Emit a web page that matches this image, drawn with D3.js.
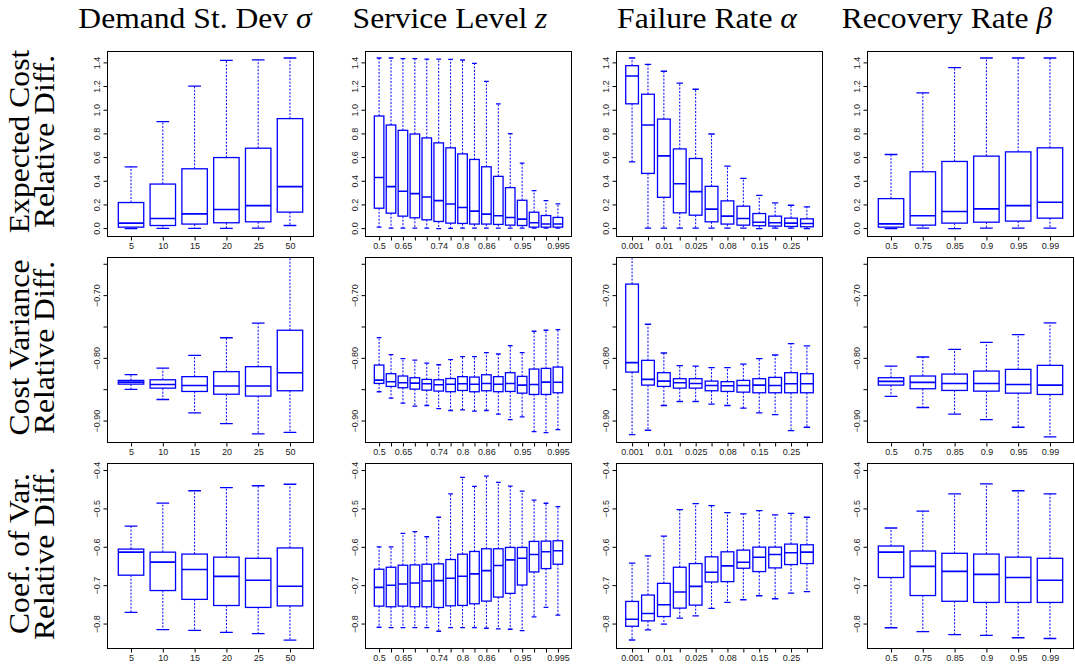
<!DOCTYPE html>
<html>
<head>
<meta charset="utf-8">
<script src="https://cdn.jsdelivr.net/npm/d3@7"></script>
<style>
  html, body { margin: 0; padding: 0; background: #fff; }
  svg { display: block; }
  .tick text { font-family: "Liberation Sans", Arial, sans-serif; font-size: 9px; fill: #222; }
  .title, .rowlab { font-family: "Liberation Serif", "Times New Roman", serif; fill: #000; }
</style>
</head>
<body>
<script>
// ---- factor levels (x categories) ----
const demandSd = ["5", "10", "15", "20", "25", "50"];
const serviceLevel = ["0.5", "0.6", "0.65", "0.7", "0.72", "0.74", "0.76", "0.8",
                      "0.84", "0.86", "0.88", "0.9", "0.95", "0.98", "0.99", "0.995"];
const serviceLevelLabelled = ["0.5", "0.65", "0.74", "0.8", "0.86", "0.95", "0.995"];
const failureRate = ["0.001", "0.005", "0.01", "0.02", "0.025", "0.05",
                     "0.08", "0.1", "0.15", "0.2", "0.25", "0.3"];
const failureRateLabelled = ["0.001", "0.01", "0.025", "0.08", "0.15", "0.25"];
const recoveryRate = ["0.5", "0.75", "0.85", "0.9", "0.95", "0.99"];

// ---- column and row headings ----
const colTitles = [["Demand St. Dev ", "σ"], ["Service Level ", "z"],
                   ["Failure Rate ", "α"], ["Recovery Rate ", "β"]];
const rowTitles = [["Expected Cost", "Relative Diff."],
                   ["Cost Variance", "Relative Diff."],
                   ["Coef. of Var.", "Relative Diff."]];

// ---- y ranges and y ticks per row ----
const yDomains = [[-0.071, 1.492], [-0.935, -0.640], [-0.865, -0.383]];
const yTicks = [[0, 0.2, 0.4, 0.6, 0.8, 1.0, 1.2, 1.4],
                [-0.65, -0.70, -0.75, -0.80, -0.85, -0.90],
                [-0.4, -0.5, -0.6, -0.7, -0.8]];
const yTickLabels = [["0.0", "0.2", "0.4", "0.6", "0.8", "1.0", "1.2", "1.4"],
                     ["", "−0.70", "", "−0.80", "", "−0.90"],
                     ["−0.4", "−0.5", "−0.6", "−0.7", "−0.8"]];

// ---- box statistics: [lower whisker, Q1, median, Q3, upper whisker] ----
// Expected cost relative difference
const ecDemand = [
  [-0.005, 0.008, 0.042, 0.216, 0.518],
  [-0.003, 0.022, 0.081, 0.372, 0.899],
  [-0.003, 0.034, 0.120, 0.501, 1.199],
  [-0.003, 0.045, 0.157, 0.596, 1.417],
  [0.000, 0.053, 0.190, 0.675, 1.422],
  [0.022, 0.135, 0.350, 0.925, 1.437]
];
const ecService = [
  [0.008, 0.168, 0.428, 0.947, 1.437],
  [0.000, 0.126, 0.350, 0.871, 1.437],
  [0.000, 0.101, 0.311, 0.826, 1.431],
  [0.000, 0.087, 0.291, 0.795, 1.431],
  [0.000, 0.070, 0.263, 0.762, 1.428],
  [-0.005, 0.056, 0.232, 0.720, 1.428],
  [-0.003, 0.042, 0.204, 0.678, 1.425],
  [0.000, 0.039, 0.174, 0.627, 1.420],
  [0.000, 0.034, 0.143, 0.580, 1.392],
  [0.000, 0.034, 0.118, 0.518, 1.240],
  [0.000, 0.031, 0.104, 0.437, 1.050],
  [0.000, 0.025, 0.090, 0.342, 0.798],
  [0.000, 0.022, 0.076, 0.235, 0.549],
  [0.000, 0.008, 0.045, 0.134, 0.316],
  [0.000, 0.008, 0.034, 0.106, 0.232],
  [0.000, 0.008, 0.034, 0.090, 0.204]
];
const ecFailure = [
  [0.560, 1.050, 1.285, 1.372, 1.437],
  [0.000, 0.462, 0.871, 1.131, 1.383],
  [0.000, 0.260, 0.610, 0.921, 1.325],
  [0.000, 0.129, 0.375, 0.669, 1.224],
  [0.000, 0.109, 0.308, 0.588, 1.173],
  [0.000, 0.053, 0.160, 0.353, 0.795],
  [0.000, 0.034, 0.101, 0.230, 0.524],
  [0.000, 0.025, 0.081, 0.185, 0.420],
  [-0.005, 0.020, 0.050, 0.123, 0.277],
  [0.000, 0.017, 0.045, 0.101, 0.213],
  [0.000, 0.014, 0.042, 0.084, 0.193],
  [-0.005, 0.011, 0.039, 0.078, 0.180]
];
const ecRecovery = [
  [-0.005, 0.008, 0.036, 0.249, 0.622],
  [0.000, 0.025, 0.104, 0.476, 1.143],
  [-0.005, 0.042, 0.140, 0.563, 1.355],
  [0.000, 0.050, 0.162, 0.608, 1.437],
  [0.000, 0.059, 0.190, 0.644, 1.437],
  [0.000, 0.084, 0.218, 0.678, 1.437]
];

// Cost variance relative difference
const cvDemand = [
  [-0.8504, -0.8419, -0.8387, -0.8360, -0.8269],
  [-0.8664, -0.8483, -0.8424, -0.8350, -0.8163],
  [-0.8877, -0.8536, -0.8440, -0.8300, -0.7960],
  [-0.9048, -0.8580, -0.8450, -0.8220, -0.7680],
  [-0.9213, -0.8610, -0.8450, -0.8141, -0.7448],
  [-0.9187, -0.8525, -0.8237, -0.7560, -0.6200]
];
const cvService = [
  [-0.8541, -0.8408, -0.8355, -0.8115, -0.7677],
  [-0.8643, -0.8456, -0.8381, -0.8253, -0.7950],
  [-0.8723, -0.8477, -0.8397, -0.8290, -0.8013],
  [-0.8771, -0.8499, -0.8403, -0.8317, -0.8035],
  [-0.8760, -0.8515, -0.8413, -0.8344, -0.8083],
  [-0.8810, -0.8530, -0.8430, -0.8350, -0.8110],
  [-0.8840, -0.8540, -0.8420, -0.8330, -0.8030],
  [-0.8830, -0.8520, -0.8413, -0.8300, -0.7980],
  [-0.8850, -0.8541, -0.8420, -0.8307, -0.7980],
  [-0.8840, -0.8525, -0.8408, -0.8270, -0.7917],
  [-0.8899, -0.8540, -0.8420, -0.8300, -0.7939],
  [-0.8984, -0.8536, -0.8408, -0.8237, -0.7805],
  [-0.8941, -0.8563, -0.8435, -0.8296, -0.7917],
  [-0.9176, -0.8584, -0.8424, -0.8179, -0.7576],
  [-0.9192, -0.8584, -0.8387, -0.8168, -0.7560],
  [-0.9144, -0.8557, -0.8390, -0.8147, -0.7550]
];
const cvFailure = [
  [-0.9224, -0.8227, -0.8077, -0.6824, -0.6000],
  [-0.9155, -0.8435, -0.8344, -0.8040, -0.7464],
  [-0.8760, -0.8456, -0.8371, -0.8237, -0.7923],
  [-0.8696, -0.8483, -0.8397, -0.8333, -0.8125],
  [-0.8696, -0.8483, -0.8408, -0.8333, -0.8131],
  [-0.8739, -0.8525, -0.8440, -0.8371, -0.8157],
  [-0.8760, -0.8536, -0.8445, -0.8380, -0.8157],
  [-0.8803, -0.8547, -0.8440, -0.8360, -0.8099],
  [-0.8877, -0.8557, -0.8435, -0.8333, -0.8013],
  [-0.8904, -0.8557, -0.8440, -0.8312, -0.7955],
  [-0.9160, -0.8557, -0.8413, -0.8237, -0.7773],
  [-0.9107, -0.8557, -0.8413, -0.8253, -0.7810]
];
const cvRecovery = [
  [-0.8616, -0.8435, -0.8376, -0.8317, -0.8131],
  [-0.8792, -0.8493, -0.8392, -0.8290, -0.7987],
  [-0.8899, -0.8520, -0.8408, -0.8259, -0.7864],
  [-0.8984, -0.8531, -0.8408, -0.8211, -0.7752],
  [-0.9107, -0.8563, -0.8424, -0.8184, -0.7629],
  [-0.9261, -0.8584, -0.8435, -0.8120, -0.7443]
];

// Coefficient of variation relative difference
const covDemand = [
  [-0.771, -0.674, -0.614, -0.606, -0.546],
  [-0.816, -0.714, -0.640, -0.614, -0.486],
  [-0.818, -0.737, -0.659, -0.619, -0.454],
  [-0.823, -0.753, -0.677, -0.627, -0.446],
  [-0.826, -0.758, -0.687, -0.630, -0.441],
  [-0.843, -0.754, -0.703, -0.603, -0.437]
];
const covService = [
  [-0.8096, -0.7546, -0.7057, -0.6585, -0.6000],
  [-0.8105, -0.7563, -0.7004, -0.6533, -0.6000],
  [-0.8105, -0.7546, -0.6970, -0.6480, -0.5650],
  [-0.8105, -0.7563, -0.6943, -0.6472, -0.5607],
  [-0.8105, -0.7563, -0.6891, -0.6454, -0.5738],
  [-0.8201, -0.7581, -0.6882, -0.6445, -0.5231],
  [-0.8105, -0.7537, -0.6821, -0.6332, -0.4620],
  [-0.8105, -0.7528, -0.6769, -0.6192, -0.4192],
  [-0.8105, -0.7485, -0.6707, -0.6122, -0.4428],
  [-0.8122, -0.7415, -0.6620, -0.6052, -0.4157],
  [-0.8140, -0.7310, -0.6489, -0.6052, -0.4323],
  [-0.8148, -0.7214, -0.6341, -0.6017, -0.4419],
  [-0.8183, -0.6996, -0.6297, -0.6017, -0.4550],
  [-0.7825, -0.6655, -0.6201, -0.5860, -0.4786],
  [-0.7581, -0.6568, -0.6131, -0.5852, -0.4865],
  [-0.7782, -0.6454, -0.6105, -0.5843, -0.4952]
];
const covFailure = [
  [-0.8428, -0.8070, -0.7886, -0.7424, -0.6428],
  [-0.8166, -0.7930, -0.7738, -0.7258, -0.6236],
  [-0.8017, -0.7817, -0.7511, -0.6952, -0.5720],
  [-0.7860, -0.7598, -0.7179, -0.6533, -0.5031],
  [-0.7799, -0.7520, -0.7031, -0.6437, -0.4873],
  [-0.7607, -0.6917, -0.6664, -0.6262, -0.4926],
  [-0.7450, -0.6908, -0.6498, -0.6131, -0.5109],
  [-0.7380, -0.6559, -0.6402, -0.6087, -0.5144],
  [-0.7275, -0.6646, -0.6271, -0.6009, -0.5057],
  [-0.7354, -0.6550, -0.6201, -0.6009, -0.5170],
  [-0.7205, -0.6463, -0.6157, -0.5930, -0.5127],
  [-0.7170, -0.6437, -0.6140, -0.5948, -0.5231]
];
const covRecovery = [
  [-0.811, -0.680, -0.614, -0.598, -0.551],
  [-0.821, -0.727, -0.651, -0.611, -0.507],
  [-0.829, -0.742, -0.664, -0.617, -0.462],
  [-0.831, -0.745, -0.672, -0.619, -0.436],
  [-0.837, -0.745, -0.680, -0.627, -0.454],
  [-0.839, -0.745, -0.687, -0.630, -0.462]
];

// ---- panel grid ----
const W = 1075, H = 665;
const panelLeft = [107, 365, 616, 867];
const panelTop = [51, 257, 463];
const panelW = 206, panelH = 185;
const titleX = [195, 450, 707, 947];

const columns = [
  { cats: demandSd, labelled: demandSd, rows: [ecDemand, cvDemand, covDemand] },
  { cats: serviceLevel, labelled: serviceLevelLabelled, rows: [ecService, cvService, covService] },
  { cats: failureRate, labelled: failureRateLabelled, rows: [ecFailure, cvFailure, covFailure] },
  { cats: recoveryRate, labelled: recoveryRate, rows: [ecRecovery, cvRecovery, covRecovery] }
];

const blue = "#0000ff";
const headingStretch = 1.09; // widen the serif headings a little
const svg = d3.select("body").append("svg").attr("width", W).attr("height", H);
const defs = svg.append("defs");

// column titles
colTitles.forEach((t, c) => {
  const txt = svg.append("text").attr("class", "title")
    .attr("transform", `translate(${titleX[c]},28) scale(${headingStretch},1)`)
    .attr("text-anchor", "middle").style("font-size", "29px");
  txt.append("tspan").text(t[0]);
  txt.append("tspan").style("font-style", "italic").text(t[1]);
});

// row titles (two rotated lines each)
rowTitles.forEach((lines, r) => {
  const cy = panelTop[r] + panelH / 2 - 2;
  [29, 54].forEach((bx, i) => {
    svg.append("text").attr("class", "rowlab")
      .attr("transform", `translate(${bx},${cy}) rotate(-90) scale(${headingStretch},1)`)
      .attr("text-anchor", "middle").style("font-size", "29px")
      .text(lines[i]);
  });
});

columns.forEach((col, c) => {
  const n = col.cats.length;
  const x = d3.scaleLinear()
    .domain([0.5 - 0.04 * n, n + 0.5 + 0.04 * n])
    .range([0, panelW]);
  const boxW = x(0.8) - x(0);
  const capW = boxW / 2;

  col.rows.forEach((stats, r) => {
    const y = d3.scaleLinear().domain(yDomains[r]).range([panelH, 0]);
    const g = svg.append("g")
      .attr("transform", `translate(${panelLeft[c] + 0.5},${panelTop[r] + 0.5})`);

    const clipId = `clip-${r}-${c}`;
    defs.append("clipPath").attr("id", clipId)
      .append("rect").attr("x", 0).attr("y", 0).attr("width", panelW).attr("height", panelH);

    const plot = g.append("g").attr("clip-path", `url(#${clipId})`);
    const boxes = plot.selectAll("g.box").data(stats).join("g").attr("class", "box");

    // whiskers (dashed)
    boxes.append("line")
      .attr("x1", (d, i) => x(i + 1)).attr("x2", (d, i) => x(i + 1))
      .attr("y1", d => y(d[3])).attr("y2", d => y(d[4]))
      .attr("stroke", blue).attr("stroke-width", 1).attr("stroke-dasharray", "2,1.5");
    boxes.append("line")
      .attr("x1", (d, i) => x(i + 1)).attr("x2", (d, i) => x(i + 1))
      .attr("y1", d => y(d[1])).attr("y2", d => y(d[0]))
      .attr("stroke", blue).attr("stroke-width", 1).attr("stroke-dasharray", "2,1.5");
    // staples
    [0, 4].forEach(k => {
      boxes.append("line")
        .attr("x1", (d, i) => x(i + 1) - capW / 2).attr("x2", (d, i) => x(i + 1) + capW / 2)
        .attr("y1", d => y(d[k])).attr("y2", d => y(d[k]))
        .attr("stroke", blue).attr("stroke-width", 1.3);
    });
    // boxes
    boxes.append("rect")
      .attr("x", (d, i) => x(i + 1) - boxW / 2).attr("width", boxW)
      .attr("y", d => y(d[3])).attr("height", d => y(d[1]) - y(d[3]))
      .attr("fill", "#fff").attr("stroke", blue).attr("stroke-width", 1.3);
    // medians
    boxes.append("line")
      .attr("x1", (d, i) => x(i + 1) - boxW / 2).attr("x2", (d, i) => x(i + 1) + boxW / 2)
      .attr("y1", d => y(d[2])).attr("y2", d => y(d[2]))
      .attr("stroke", blue).attr("stroke-width", 1.6);

    // x axis
    const xAxis = d3.axisBottom(x)
      .tickValues(d3.range(1, n + 1))
      .tickSize(4).tickPadding(2)
      .tickFormat(v => {
        const lab = col.cats[v - 1];
        return col.labelled.includes(lab) ? lab : "";
      });
    const gx = g.append("g").attr("transform", `translate(0,${panelH})`).call(xAxis);
    gx.select(".domain").remove();
    gx.selectAll(".tick line").attr("stroke", "#000");

    // y axis with vertical labels
    const yAxis = d3.axisLeft(y)
      .tickValues(yTicks[r]).tickSize(4)
      .tickFormat((v, i) => yTickLabels[r][i]);
    const gy = g.append("g").call(yAxis);
    gy.select(".domain").remove();
    gy.selectAll(".tick line").attr("stroke", "#000");
    gy.selectAll(".tick text")
      .attr("transform", "rotate(-90)")
      .attr("x", 0).attr("y", -8).attr("dy", 0)
      .style("text-anchor", "middle");

    // frame
    g.append("rect").attr("width", panelW).attr("height", panelH)
      .attr("fill", "none").attr("stroke", "#000").attr("stroke-width", 1);
  });
});
</script>
</body>
</html>
